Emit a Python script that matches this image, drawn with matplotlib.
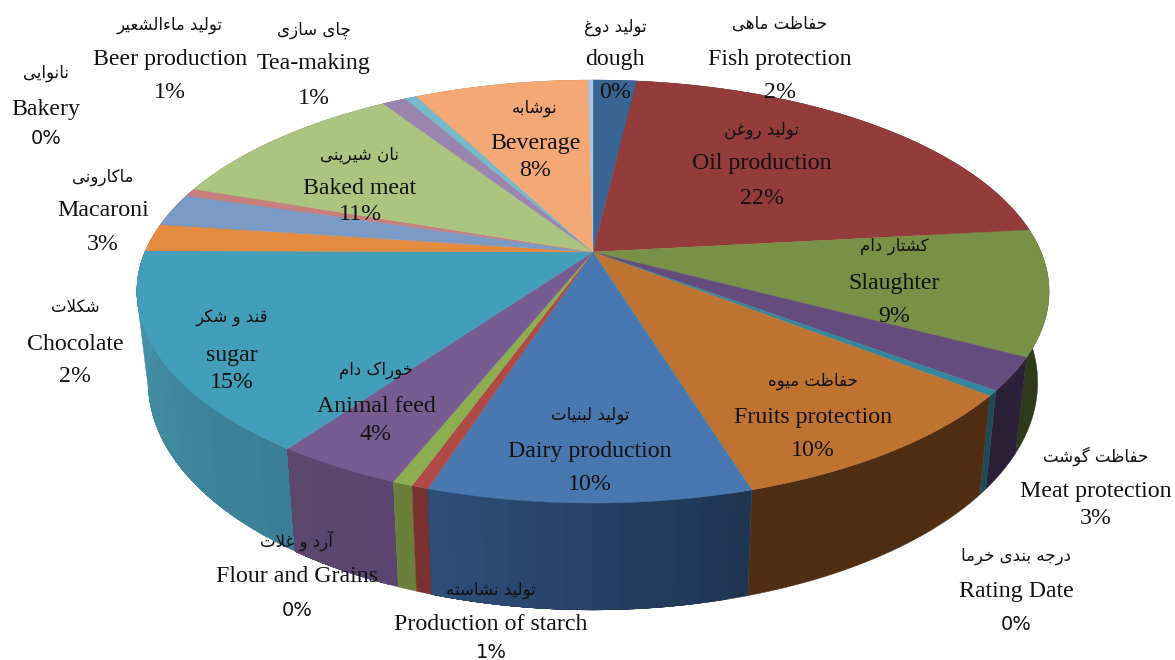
import numpy as np
import matplotlib
matplotlib.use("Agg")
import matplotlib.pyplot as plt
from matplotlib.colors import to_rgb
from matplotlib.patches import Polygon

# ---------- data (clockwise from 12 o'clock) ----------
english = ["Fish protection", "Oil production", "Slaughter", "Meat protection", "Rating Date",
           "Fruits protection", "Dairy production", "Production of starch", "Flour and Grains",
           "Animal feed", "sugar", "Chocolate", "Macaroni", "Bakery", "Baked meat", "Tea-making",
           "Beer production", "Beverage", "dough"]
persian = ["حفاظت ماهی", "تولید روغن", "کشتار دام", "حفاظت گوشت", "درجه بندی خرما",
           "حفاظت میوه", "تولید لبنیات", "تولید نشاسته", "آرد و غلات",
           "خوراک دام", "قند و شکر", "شکلات", "ماکارونی", "نانوایی", "نان شیرینی", "چای سازی",
           "تولید ماءالشعیر", "نوشابه", "تولید دوغ"]
printed = ["2%", "22%", "9%", "3%", "0%", "10%", "10%", "1%", "0%", "4%", "15%", "2%", "3%",
           "0%", "11%", "1%", "1%", "8%", "0%"]
values = [1.85, 21.4, 9.55, 2.5, 0.4, 9.6, 9.6, 0.5, 0.6, 3.8, 15.3, 2.1, 2.5, 0.6, 10.6, 1.0,
          0.5, 7.4, 0.2]

# ---------- styles ----------
top_colors = ["#3A6491", "#943C3B", "#799146", "#644C7C", "#35879E", "#BF7331", "#4878AF", "#B04A47",
              "#8DAE50", "#775C92", "#439EB9", "#E58B3F", "#7C9AC6", "#C67F7D", "#ABC480", "#9A85AE",
              "#76B9CB", "#F4A876", "#A9C5E6"]
side_start = ["#28456A", "#5E2726", "#2F3A1A", "#2A2038", "#1D4C58", "#4F2E14", "#1F3552", "#7A3230",
              "#6A7F3A", "#5A4570", "#3A7F96", "#9A5A25", "#566F93", "#8A5452", "#7F9560", "#6E5C80",
              "#4F8496", "#B07850", "#7C95B0"]
side_end = ["#28456A", "#5E2726", "#2F3A1A", "#2A2038", "#1D4C58", "#4F2E14", "#2E4E78", "#7A3230",
            "#6A7F3A", "#5C476F", "#4693AB", "#9A5A25", "#566F93", "#8A5452", "#7F9560", "#6E5C80",
            "#4F8496", "#B07850", "#7C95B0"]
label_x = [780, 762, 894, 1096, 1016, 813, 590, 491, 297, 376, 232, 75, 103, 46, 360, 314, 170, 535, 615]
label_y = [(24, 60, 93), (130, 164, 198), (246, 283, 316), (456, 491, 518), (556, 591, 625),
           (381, 417, 450), (415, 451, 484), (590, 625, 652), (541, 577, 610), (370, 406, 435),
           (318, 355, 383), (307, 344, 376), (177, 211, 244), (73, 109, 138), (155, 188, 214),
           (30, 64, 98), (25, 60, 92), (108, 144, 170), (27, 60, 93)]
sans_pct = {"Rating Date", "Production of starch", "Flour and Grains", "Bakery"}

# ---------- minimal Persian shaping (matplotlib has no text shaper) ----------
four = {"ب": 0xFE8F, "پ": 0xFB56, "ت": 0xFE95, "ج": 0xFE9D, "چ": 0xFB7A, "ح": 0xFEA1, "خ": 0xFEA5,
        "س": 0xFEB1, "ش": 0xFEB5, "ظ": 0xFEC5, "ع": 0xFEC9, "غ": 0xFECD, "ف": 0xFED1, "ق": 0xFED5,
        "ک": 0xFB8E, "گ": 0xFB92, "ل": 0xFEDD, "م": 0xFEE1, "ن": 0xFEE5, "ه": 0xFEE9, "ی": 0xFBFC}
two = {"ا": 0xFE8D, "آ": 0xFE81, "د": 0xFEA9, "ر": 0xFEAD, "ز": 0xFEAF, "و": 0xFEED}


def shape(s):
    words = []
    for w in s.split(" "):
        w = list(w)
        out = []
        i = 0
        while i < len(w):
            c = w[i]
            prev_joins = i > 0 and w[i - 1] in four
            if c == "ل" and i + 1 < len(w) and w[i + 1] == "ا":
                out.append(chr(0xFEFC if prev_joins else 0xFEFB))
                i += 2
                continue
            next_letter = i + 1 < len(w) and (w[i + 1] in four or w[i + 1] in two)
            if c in four:
                form = (1 if prev_joins else 0) if not next_letter else (3 if prev_joins else 2)
                out.append(chr(four[c] + form))
            elif c in two:
                out.append(chr(two[c] + (1 if prev_joins else 0)))
            elif c == "ء":
                out.append(chr(0xFE80))
            else:
                out.append(c)
            i += 1
        words.append("".join(reversed(out)))
    return " ".join(reversed(words))


# ---------- projection of the pie ----------
CX, CY, K, A, B = 593.0, 252.0, 0.187, 204.1, 448.0


def rim_top(theta):
    u, v = np.sin(theta), np.cos(theta)
    return CX + B * u / (1 + K * v), CY - A * v / (1 + K * v)


def rim_bottom(theta):
    x, y = rim_top(theta)
    return CX + 0.975 * (x - CX), CY + 88 + 1.075 * (y - CY)


fig = plt.figure(figsize=(11.75, 6.6), dpi=100)
ax = fig.add_axes([0, 0, 1, 1])
ax.set_xlim(0, 1175)
ax.set_ylim(660, 0)
ax.axis("off")

edges = 2 * np.pi * np.concatenate([[0], np.cumsum(values)]) / np.sum(values)
arcs = [np.linspace(a, b, max(3, int((b - a) * 120))) for a, b in zip(edges[:-1], edges[1:])]


def wall(arc, col):
    tx, ty = rim_top(arc)
    bx, by = rim_bottom(arc)
    pts = np.column_stack([np.r_[tx, bx[::-1]], np.r_[ty, by[::-1]]])
    ax.add_patch(Polygon(pts, closed=True, fc=col, ec=col, lw=0.3, zorder=1))


# outer walls, back to front; shaded walls are over-painted band by band so no seams show
order = np.argsort([-np.cos(arc.mean()) for arc in arcs])
for i in order:
    arc = arcs[i]
    if side_start[i] == side_end[i]:
        wall(arc, side_start[i])
        continue
    c0, c1 = np.array(to_rgb(side_start[i])), np.array(to_rgb(side_end[i]))
    steps = 12
    cuts = np.linspace(0, len(arc) - 1, steps + 1).astype(int)
    for s in range(steps):
        wall(arc[cuts[s]:], tuple(c0 + (c1 - c0) * s / (steps - 1)))

# top surface
for i, arc in enumerate(arcs):
    tx, ty = rim_top(arc)
    pts = np.column_stack([np.r_[CX, tx], np.r_[CY, ty]])
    ax.add_patch(Polygon(pts, closed=True, fc=top_colors[i], ec=top_colors[i], lw=0.3, zorder=2))

# labels
for en, fa, pct, x, (y1, y2, y3) in zip(english, persian, printed, label_x, label_y):
    ax.text(x, y1, shape(fa), family="DejaVu Sans", fontsize=12, ha="center", va="center",
            color="#111111", zorder=3)
    ax.text(x, y2, en, family="Liberation Serif", fontsize=17.2, ha="center", va="center",
            color="#111111", zorder=3)
    if en in sans_pct:
        ax.text(x, y3, pct, family="DejaVu Sans", fontsize=14, ha="center", va="center",
                color="#111111", zorder=3)
    else:
        ax.text(x, y3, pct, family="Liberation Serif", fontsize=17.2, ha="center", va="center",
                color="#111111", zorder=3)

fig.savefig("out.png", dpi=100)
